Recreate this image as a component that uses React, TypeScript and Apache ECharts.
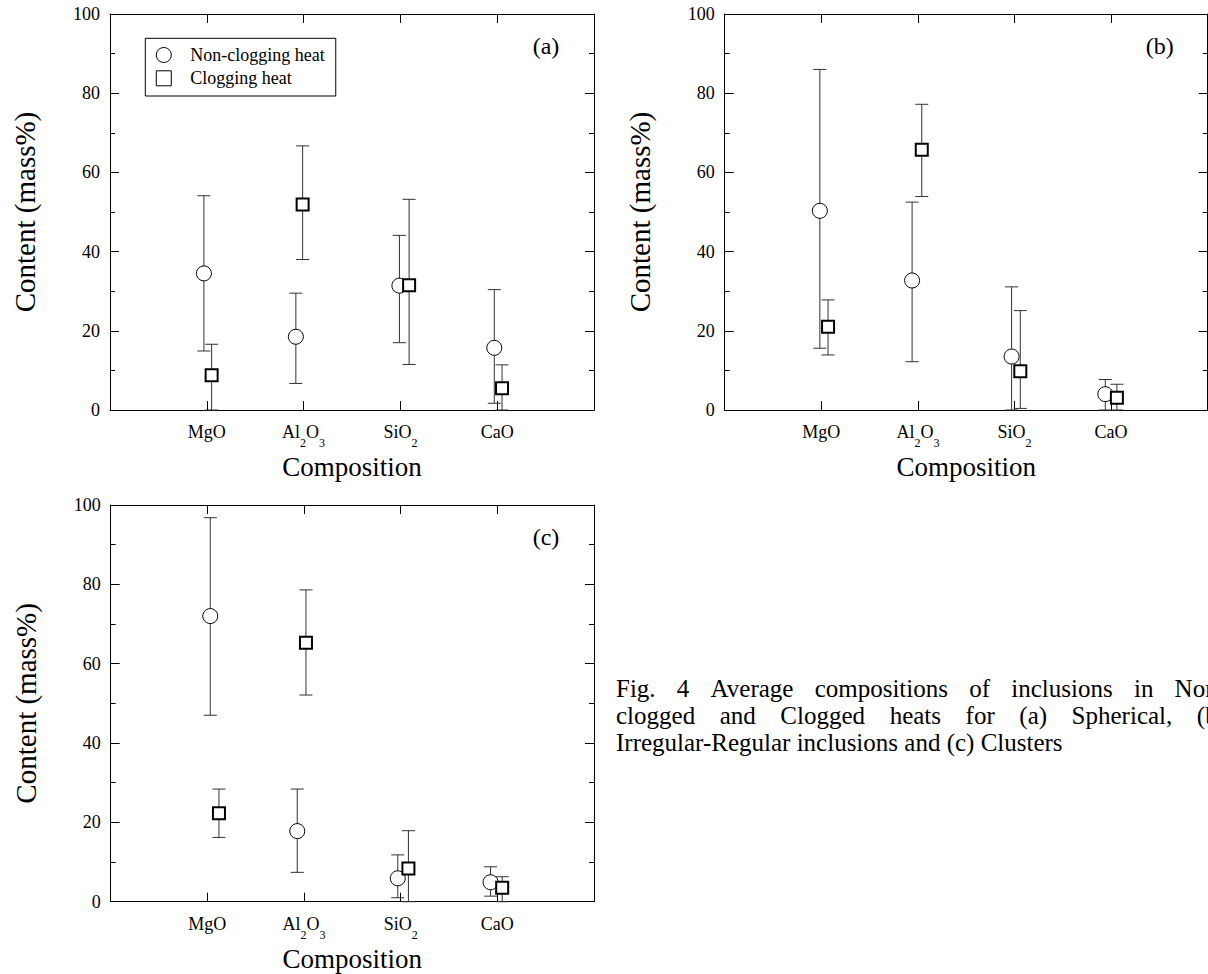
import React, { useEffect, useRef } from 'react';
import * as echarts from 'echarts';

const FONT = 'Liberation Serif';

const categories = ['MgO', 'Al2O3', 'SiO2', 'CaO'];
const categoryPos = [1, 2, 3, 4];
const seriesNames = ['Non-clogging heat', 'Clogging heat'];
const panelLabels = ['(a)', '(b)', '(c)'];
const yTitle = 'Content (mass%)';
const xTitle = 'Composition';

// (a) Spherical inclusions
const aNonX = [0.97, 1.92, 2.99, 3.97];
const aNonMean = [34.5, 18.5, 31.4, 15.7];
const aNonLow = [14.9, 6.7, 17.0, 1.7];
const aNonHigh = [54.1, 29.5, 44.1, 30.4];
const aClogX = [1.05, 1.99, 3.09, 4.05];
const aClogMean = [8.8, 51.9, 31.5, 5.5];
const aClogLow = [0, 38.0, 11.5, 0];
const aClogHigh = [16.6, 66.7, 53.2, 11.4];

// (b) Irregular-Regular inclusions
const bNonX = [0.985, 1.94, 2.97, 3.94];
const bNonMean = [50.3, 32.7, 13.5, 4.0];
const bNonLow = [15.6, 12.2, 0, 0];
const bNonHigh = [86.0, 52.5, 31.1, 7.7];
const bClogX = [1.07, 2.04, 3.06, 4.06];
const bClogMean = [21.0, 65.7, 9.8, 3.1];
const bClogLow = [13.9, 53.9, 0.4, 0];
const bClogHigh = [27.8, 77.2, 25.1, 6.5];

// (c) Clusters
const cNonX = [1.03, 1.93, 2.97, 3.93];
const cNonMean = [72.0, 17.8, 5.9, 4.9];
const cNonLow = [47.0, 7.4, 1.0, 1.4];
const cNonHigh = [96.8, 28.4, 11.8, 8.8];
const cClogX = [1.12, 2.02, 3.08, 4.05];
const cClogMean = [22.3, 65.3, 8.4, 3.5];
const cClogLow = [16.2, 52.1, 0, 0];
const cClogHigh = [28.4, 78.6, 17.9, 6.3];

const captionLines = [
  ['Fig.', '4', 'Average', 'compositions', 'of', 'inclusions', 'in', 'Non-'],
  ['clogged', 'and', 'Clogged', 'heats', 'for', '(a)', 'Spherical,', '(b)'],
  ['Irregular-Regular', 'inclusions', 'and', '(c)', 'Clusters'],
];

const panels = [
  { nonX: aNonX, nonMean: aNonMean, nonLow: aNonLow, nonHigh: aNonHigh, clogX: aClogX, clogMean: aClogMean, clogLow: aClogLow, clogHigh: aClogHigh },
  { nonX: bNonX, nonMean: bNonMean, nonLow: bNonLow, nonHigh: bNonHigh, clogX: bClogX, clogMean: bClogMean, clogLow: bClogLow, clogHigh: bClogHigh },
  { nonX: cNonX, nonMean: cNonMean, nonLow: cNonLow, nonHigh: cNonHigh, clogX: cClogX, clogMean: cClogMean, clogLow: cClogLow, clogHigh: cClogHigh },
];

const grids = [
  { left: 110, top: 14, width: 484, height: 396 },
  { left: 724.7, top: 14, width: 483, height: 396 },
  { left: 110.7, top: 505, width: 483.3, height: 396.7 },
];

function errorRender(params: any, api: any) {
  const x = api.value(0);
  const lo = api.value(1);
  const hi = api.value(2);
  const pLo = api.coord([x, lo]);
  const pHi = api.coord([x, hi]);
  const hw = 6.5;
  const style = { stroke: '#333', lineWidth: 1, fill: 'none' };
  return {
    type: 'group',
    children: [
      { type: 'line', shape: { x1: pLo[0], y1: pLo[1], x2: pHi[0], y2: pHi[1] }, style },
      { type: 'line', shape: { x1: pLo[0] - hw, y1: pLo[1], x2: pLo[0] + hw, y2: pLo[1] }, style },
      { type: 'line', shape: { x1: pHi[0] - hw, y1: pHi[1], x2: pHi[0] + hw, y2: pHi[1] }, style },
    ],
  };
}

let measureCtx: CanvasRenderingContext2D | null = null;
function measure(text: string, size: number) {
  if (!measureCtx) measureCtx = document.createElement('canvas').getContext('2d') as CanvasRenderingContext2D;
  measureCtx.font = `${size}px "Liberation Serif"`;
  return measureCtx.measureText(text).width;
}

function txt(text: string, x: number, y: number, size: number, extra: any = {}) {
  return {
    type: 'text',
    x,
    y,
    ...extra,
    style: { text, fontFamily: FONT, fontSize: size, fill: '#000', textAlign: 'left', textVerticalAlign: 'middle', ...(extra.style || {}) },
  };
}

function buildCaption() {
  const size = 25;
  const startX = 616;
  const lineY = [688, 715, 742];
  const justifyWidth = 610;
  const els: any[] = [];
  captionLines.forEach((words, li) => {
    const widths = words.map((w) => measure(w, size));
    const total = widths.reduce((a, b) => a + b, 0);
    const gap = li < captionLines.length - 1 ? (justifyWidth - total) / (words.length - 1) : measure(' ', size);
    let x = startX;
    words.forEach((w, wi) => {
      els.push(txt(w, x, lineY[li], size));
      x += widths[wi] + gap;
    });
  });
  return els;
}

export default function App() {
  const ref = useRef<HTMLDivElement>(null);
  useEffect(() => {
    if (!ref.current) return;
    const chart = echarts.init(ref.current, undefined, { renderer: 'svg' });

    const xAxes: any[] = [];
    const yAxes: any[] = [];
    const series: any[] = [];
    const tickStyle = { color: '#000', width: 1 };

    grids.forEach((g, i) => {
      xAxes.push({
        type: 'value', gridIndex: i, min: 0, max: 5, interval: 1, position: 'bottom',
        axisLine: { show: true, onZero: false, lineStyle: tickStyle },
        axisTick: { show: true, inside: true, length: 9, lineStyle: tickStyle },
        splitLine: { show: false },
        axisLabel: { show: false },
      });
      xAxes.push({
        type: 'value', gridIndex: i, min: 0, max: 5, interval: 1, position: 'top',
        axisLine: { show: true, onZero: false, lineStyle: tickStyle },
        axisTick: { show: true, inside: true, length: 9, lineStyle: tickStyle },
        axisLabel: { show: false }, splitLine: { show: false },
      });
      yAxes.push({
        type: 'value', gridIndex: i, min: 0, max: 100, interval: 20, position: 'left',
        axisLine: { show: true, onZero: false, lineStyle: tickStyle },
        axisTick: { show: true, inside: true, length: 9, lineStyle: tickStyle },
        minorTick: { show: true, splitNumber: 2, length: 5, lineStyle: tickStyle },
        splitLine: { show: false },
        axisLabel: { show: true, margin: 10, fontFamily: FONT, fontSize: 18, color: '#000' },
      });
      yAxes.push({
        type: 'value', gridIndex: i, min: 0, max: 100, interval: 20, position: 'right',
        axisLine: { show: true, onZero: false, lineStyle: tickStyle },
        axisTick: { show: true, inside: true, length: 9, lineStyle: tickStyle },
        minorTick: { show: true, splitNumber: 2, length: 5, lineStyle: tickStyle },
        splitLine: { show: false }, axisLabel: { show: false },
      });

      const p = panels[i];
      series.push({
        type: 'custom', xAxisIndex: 2 * i, yAxisIndex: 2 * i, z: 1, renderItem: errorRender,
        data: p.nonX.map((x, k) => [x, p.nonLow[k], p.nonHigh[k]]),
        encode: { x: 0, y: [1, 2] }, silent: true,
      });
      series.push({
        type: 'custom', xAxisIndex: 2 * i, yAxisIndex: 2 * i, z: 1, renderItem: errorRender,
        data: p.clogX.map((x, k) => [x, p.clogLow[k], p.clogHigh[k]]),
        encode: { x: 0, y: [1, 2] }, silent: true,
      });
      series.push({
        type: 'scatter', name: seriesNames[0], xAxisIndex: 2 * i, yAxisIndex: 2 * i, z: 2,
        symbol: 'circle', symbolSize: 15,
        itemStyle: { color: '#fff', borderColor: '#000', borderWidth: 1, opacity: 1 },
        data: p.nonX.map((x, k) => [x, p.nonMean[k]]),
      });
      series.push({
        type: 'scatter', name: seriesNames[1], xAxisIndex: 2 * i, yAxisIndex: 2 * i, z: 3,
        symbol: 'rect', symbolSize: 12,
        itemStyle: { color: '#fff', borderColor: '#000', borderWidth: 2, opacity: 1 },
        data: p.clogX.map((x, k) => [x, p.clogMean[k]]),
      });
    });

    chart.setOption({
      animation: false,
      backgroundColor: '#fff',
      textStyle: { fontFamily: FONT },
      grid: grids.map((g) => ({ ...g, containLabel: false, outerBoundsMode: 'none' })),
      xAxis: xAxes,
      yAxis: yAxes,
      legend: {
        data: seriesNames, orient: 'vertical', left: 145.3, top: 38.3,
        padding: [7.7, 11, 8.7, 10.5], itemGap: 5.3, itemWidth: 15, itemHeight: 15,
        borderColor: '#000', borderWidth: 1, backgroundColor: '#fff', borderRadius: 0,
        selectedMode: false,
        itemStyle: { color: '#fff', borderColor: '#000', borderWidth: 1 },
        textStyle: { fontFamily: FONT, fontSize: 18, color: '#000', lineHeight: 18, padding: [0, 0, 0, 14] },
      },
      series,
    });

    // Texts placed through the axes' own scales
    const graphics: any[] = [];
    grids.forEach((g, i) => {
      const bottom = g.top + g.height;
      // category tick labels with subscripts
      categories.forEach((cat, k) => {
        const px = chart.convertToPixel({ xAxisIndex: 2 * i }, categoryPos[k]) as unknown as number;
        const pieces = cat.split(/(\d+)/).filter((s) => s.length > 0).map((s) => ({ text: s, sub: /^\d+$/.test(s) }));
        const widths = pieces.map((pc) => measure(pc.text, pc.sub ? 12 : 18));
        const total = widths.reduce((a, b) => a + b, 0);
        let x = px - total / 2;
        const baseY = bottom + 22;
        pieces.forEach((pc, j) => {
          graphics.push(txt(pc.text, x, pc.sub ? baseY + 11 : baseY, pc.sub ? 12 : 18));
          x += widths[j];
        });
      });
      // axis titles
      graphics.push(txt(xTitle, g.left + g.width / 2, bottom + 57, 27, { style: { textAlign: 'center' } }));
      graphics.push(
        txt(yTitle, g.left - 85, g.top + g.height / 2, 29, { rotation: Math.PI / 2, style: { textAlign: 'center' } })
      );
      // panel label
      graphics.push(txt(panelLabels[i], g.left + g.width - 48, g.top + 32, 24, { style: { textAlign: 'center' } }));
    });
    chart.setOption({ graphic: [...graphics, ...buildCaption()] });

    return () => chart.dispose();
  }, []);
  return <div ref={ref} style={{ position: 'absolute', left: 0, top: 0, width: 1208, height: 974, background: '#fff' }} />;
}
